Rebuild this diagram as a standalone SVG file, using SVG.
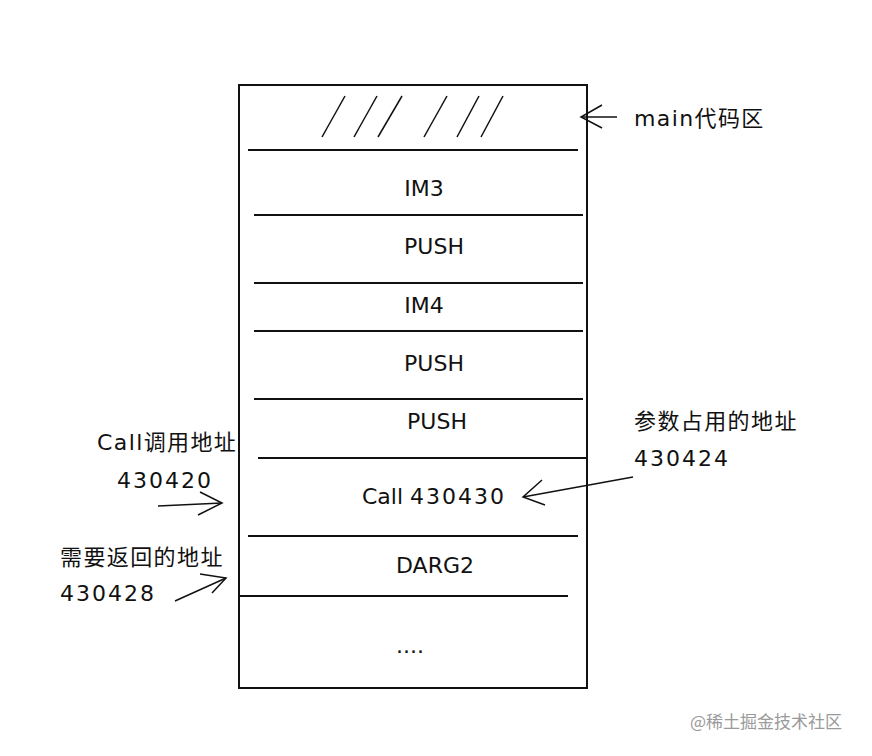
<svg xmlns="http://www.w3.org/2000/svg" width="872" height="756" viewBox="0 0 872 756">
<style>
.t{font-family:"DejaVu Sans","Noto Sans CJK SC",sans-serif;font-size:22px;fill:#111}
.c{text-anchor:middle}
.n{letter-spacing:2px}
.k{letter-spacing:1.4px}
.d{stroke:#111;stroke-width:2;fill:none}
.a{stroke:#111;stroke-width:1.5;fill:none}
.h{stroke:#111;stroke-width:1.5}
</style>
<rect width="872" height="756" fill="#fff"/>
<g id="memory">
<rect x="239" y="85" width="348" height="603" class="d"/>
<g id="hatch" class="h">
<line x1="322" y1="137" x2="345" y2="96"/>
<line x1="354" y1="137" x2="377" y2="96"/>
<line x1="378" y1="137" x2="402" y2="96"/>
<line x1="424" y1="137" x2="447" y2="96"/>
<line x1="457" y1="137" x2="479" y2="96"/>
<line x1="481" y1="137" x2="503" y2="96"/>
</g>
<g id="dividers" class="d">
<line x1="248" y1="150" x2="578" y2="150"/>
<line x1="254" y1="215" x2="583" y2="215"/>
<line x1="254" y1="283" x2="583" y2="283"/>
<line x1="254" y1="331" x2="583" y2="331"/>
<line x1="254" y1="399" x2="583" y2="399"/>
<line x1="258" y1="458" x2="587" y2="458"/>
<line x1="248" y1="536" x2="578" y2="536"/>
<line x1="240" y1="596" x2="568" y2="596"/>
</g>
</g>
<g id="im3"><text class="t c" x="424" y="196">IM3</text></g>
<g id="push1"><text class="t c" x="434" y="254">PUSH</text></g>
<g id="im4"><text class="t c" x="424" y="313">IM4</text></g>
<g id="push2"><text class="t c" x="434" y="371">PUSH</text></g>
<g id="push3"><text class="t c" x="437" y="429">PUSH</text></g>
<g id="call"><text class="t" x="362" y="504">Call <tspan class="n">430430</tspan></text></g>
<g id="darg2"><text class="t c" x="435" y="573">DARG2</text></g>
<g id="dots"><text class="t c" x="410" y="653">....</text></g>
<g id="main-label"><text class="t k" x="634" y="126">main代码区</text></g>
<g id="param-label"><text class="t k" x="634" y="429">参数占用的地址</text><text class="t n" x="634" y="466">430424</text></g>
<g id="call-label"><text class="t k" x="97" y="450">Call调用地址</text><text class="t n" x="117" y="488">430420</text></g>
<g id="ret-label"><text class="t k" x="60" y="565">需要返回的地址</text><text class="t n" x="60" y="601">430428</text></g>
<g id="connectors" class="a">
<line x1="617" y1="117" x2="581" y2="117"/>
<polyline points="602,105 581,117 602,128"/>
<line x1="633" y1="477" x2="523" y2="497"/>
<polyline points="542,480 523,497 545,505"/>
<line x1="158" y1="506" x2="222" y2="503"/>
<polyline points="200,492 222,503 198,515"/>
<line x1="175" y1="601" x2="226" y2="578"/>
<polyline points="200,574 226,578 212,593"/>
</g>
<text x="690" y="728" style="font-family:'Noto Sans CJK SC',sans-serif;font-size:17px;fill:#9a9a9a">@稀土掘金技术社区</text>
</svg>
